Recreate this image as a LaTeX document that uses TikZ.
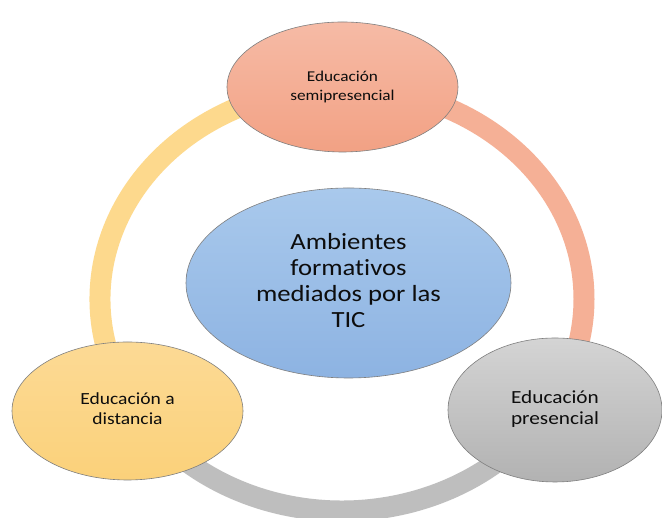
\documentclass[tikz,border=0pt]{standalone}
\usepackage{fontspec}
\setmainfont{Carlito}[FakeStretch=1.15, Ligatures=NoCommon]
\usetikzlibrary{shapes.geometric}
\definecolor{ringsalmon}{HTML}{F5B096}
\definecolor{ringgray}{HTML}{BEBEBE}
\definecolor{ringyellow}{HTML}{FDD98D}
\definecolor{txt}{HTML}{0D0D0D}
\definecolor{edge}{HTML}{7F7F7F}
\definecolor{blueT}{HTML}{A9C9EC}
\definecolor{blueB}{HTML}{8DB3E2}
\definecolor{salT}{HTML}{F6BBA6}
\definecolor{salB}{HTML}{F2A184}
\definecolor{yelT}{HTML}{FCDA95}
\definecolor{yelB}{HTML}{FBD17A}
\definecolor{grayT}{HTML}{D4D4D4}
\definecolor{grayB}{HTML}{B2B2B2}
\tikzset{
  ring/.style={line width=21pt, line cap=butt},
  bubble/.style={ellipse, draw=edge, line width=0.6pt, inner sep=0pt, align=center, text=txt},
}
\begin{document}
\begin{tikzpicture}[x=1pt,y=1pt]
\useasboundingbox (0,0) rectangle (662,518);
\fill[white] (0,0) rectangle (662,518);
% ring
\coordinate (rc) at (342,219);
\coordinate (rT) at ([shift={(90:242 and 212)}]rc);
\coordinate (rR) at ([shift={(-28.4:242 and 212)}]rc);
\coordinate (rL) at ([shift={(207.4:242 and 212)}]rc);
\draw[ring, ringsalmon] (rT) arc[start angle=90, end angle=-28.4, x radius=242, y radius=212];
\draw[ring, ringgray] (rR) arc[start angle=-28.4, end angle=-152.6, x radius=242, y radius=212];
\draw[ring, ringyellow] (rL) arc[start angle=207.4, end angle=90, x radius=242, y radius=212];
% nodes
\node[bubble, minimum width=325, minimum height=190, top color=blueT, bottom color=blueB,
      font=\fontsize{23.2}{26}\selectfont] (center) at (348.5,235)
      {\raisebox{5pt}{\begin{tabular}{@{}c@{}}Ambientes\\formativos\\mediados por las\\TIC\end{tabular}}};
\node[bubble, minimum width=231, minimum height=130, top color=salT, bottom color=salB,
      font=\fontsize{15}{19}\selectfont] (semi) at (342.5,431)
      {\raisebox{4pt}{\begin{tabular}{@{}c@{}}Educación\\semipresencial\end{tabular}}};
\node[bubble, minimum width=231, minimum height=138, top color=yelT, bottom color=yelB,
      font=\fontsize{17}{20}\selectfont] (dist) at (127.5,107)
      {\raisebox{3pt}{\begin{tabular}{@{}c@{}}Educación a\\distancia\end{tabular}}};
\node[bubble, minimum width=214, minimum height=144, top color=grayT, bottom color=grayB,
      font=\fontsize{18.5}{21}\selectfont] (pres) at (555,108)
      {\raisebox{1pt}{\begin{tabular}{@{}c@{}}Educación\\presencial\end{tabular}}};
\end{tikzpicture}
\end{document}
